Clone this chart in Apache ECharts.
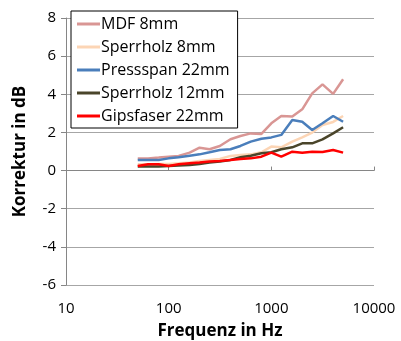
<!DOCTYPE html>
<html><head><meta charset="utf-8">
<script src="https://cdn.jsdelivr.net/npm/echarts@6/dist/echarts.min.js"></script>
<style>html,body{margin:0;padding:0;background:#fff}#c{width:401px;height:341px}</style>
</head><body><div id="c"></div>
<script>
const freqs = [50,63,80,100,125,160,200,250,315,400,500,630,800,1000,1250,1600,2000,2500,3150,4000,5000];
const xTickLabels = ['10','100','1000','10000'];
const seriesNames = ['MDF 8mm','Sperrholz 8mm','Pressspan 22mm','Sperrholz 12mm','Gipsfaser 22mm'];
const mdf8 = [0.63,0.63,0.68,0.73,0.77,0.94,1.20,1.12,1.29,1.64,1.81,1.95,1.92,2.48,2.86,2.83,3.21,4.05,4.52,4.02,4.79];
const sperrholz8 = [0.33,0.33,0.35,0.35,0.38,0.43,0.50,0.56,0.61,0.77,0.82,0.85,0.96,1.26,1.22,1.52,1.74,1.99,2.39,2.55,2.86];
const pressspan22 = [0.56,0.56,0.56,0.64,0.70,0.78,0.85,0.96,1.08,1.12,1.29,1.52,1.67,1.74,1.87,2.65,2.56,2.13,2.48,2.86,2.56];
const sperrholz12 = [0.21,0.21,0.21,0.24,0.26,0.29,0.35,0.42,0.47,0.56,0.70,0.78,0.91,0.96,1.12,1.22,1.43,1.43,1.64,1.95,2.27];
const gipsfaser22 = [0.24,0.33,0.33,0.24,0.33,0.38,0.42,0.47,0.50,0.56,0.61,0.64,0.73,0.94,0.73,0.99,0.94,0.99,0.97,1.08,0.94];
const colors = ['#d99694','#fcd5b5','#4a7ebb','#4a452a','#ff0000'];
const allValues = [mdf8, sperrholz8, pressspan22, sperrholz12, gipsfaser22];

const FONT = 'Open Sans';
const chart = echarts.init(document.getElementById('c'), null, {renderer:'canvas'});
chart.setOption({
  animation:false,
  backgroundColor:'#fff',
  grid:{left:66,right:27,top:18,bottom:56,containLabel:false,outerBoundsMode:'none'},
  legend:{
    orient:'vertical', left:71, top:11,
    data:seriesNames,
    icon:'rect', itemWidth:23, itemHeight:3, itemGap:7,
    padding:[5,8,4,6],
    borderColor:'#000', borderWidth:1, backgroundColor:'#fff',
    textStyle:{fontFamily:FONT,fontSize:16,color:'#000',padding:[0,0,0,-4]}
  },
  xAxis:{
    type:'log', logBase:10, min:10, max:10000,
    name:'Frequenz in Hz', nameLocation:'middle', nameGap:38,
    nameTextStyle:{fontFamily:FONT,fontSize:17,fontWeight:'bold',color:'#000'},
    axisLine:{lineStyle:{color:'#868686',width:1}},
    axisTick:{show:true,inside:true,length:4,lineStyle:{color:'#868686'}},
    axisLabel:{fontFamily:FONT,fontSize:15,color:'#000',margin:16,
      formatter:(v)=>{const i=Math.round(Math.log10(v))-1;return xTickLabels[i]!==undefined?xTickLabels[i]:String(v);}},
    splitLine:{show:false},
    minorTick:{show:false}
  },
  yAxis:{
    type:'value', min:-6, max:8, interval:2,
    name:'Korrektur in dB', nameLocation:'middle', nameGap:37,
    nameTextStyle:{fontFamily:FONT,fontSize:17,fontWeight:'bold',color:'#000'},
    axisLine:{show:true,lineStyle:{color:'#868686',width:1}},
    axisTick:{show:true,length:5,lineStyle:{color:'#868686'}},
    axisLabel:{fontFamily:FONT,fontSize:15,color:'#000',margin:10},
    splitLine:{show:true,lineStyle:{color:'#a6a6a6',width:1}}
  },
  series: seriesNames.map((n,i)=>({
    name:n, type:'line', showSymbol:false, symbol:'none',
    data: freqs.map((f,j)=>[f, allValues[i][j]]),
    lineStyle:{color:colors[i],width:2.5},
    itemStyle:{color:colors[i]},
    z: 10
  }))
});
</script></body></html>
